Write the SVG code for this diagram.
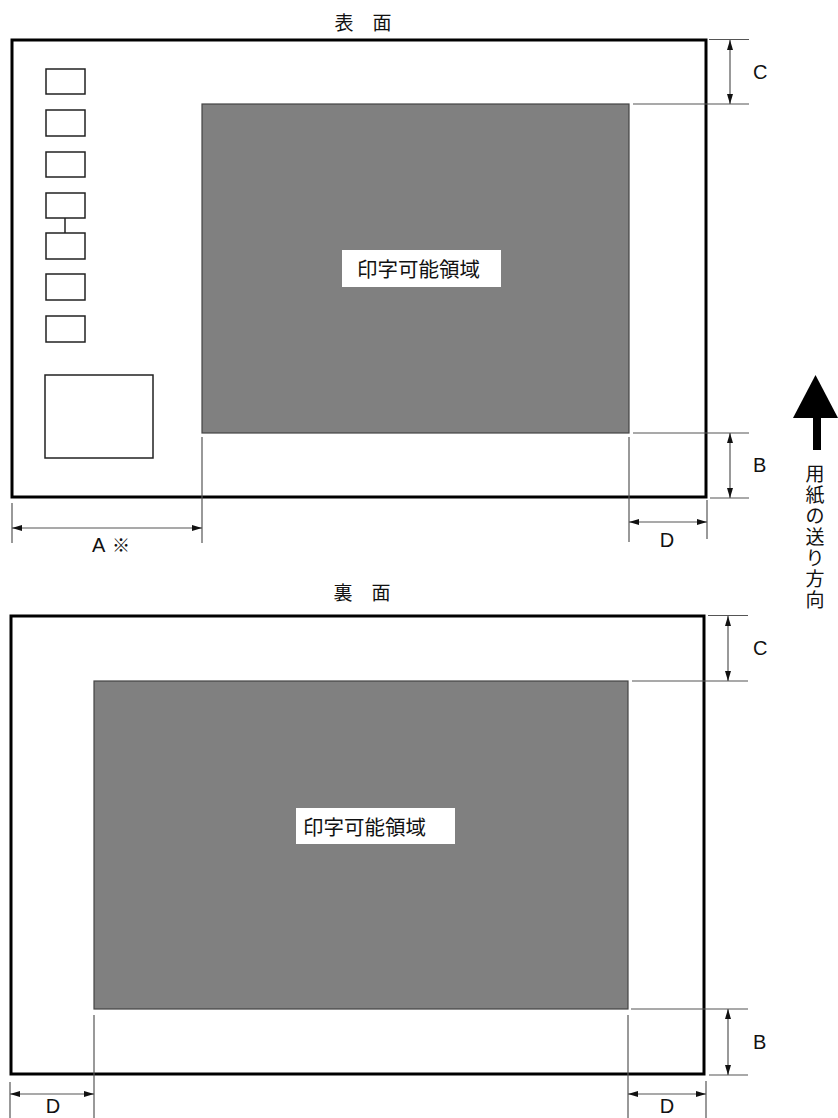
<svg xmlns="http://www.w3.org/2000/svg" width="838" height="1118" viewBox="0 0 838 1118">
<defs>
<style>
.paper{fill:#fff;stroke:#000;stroke-width:3}
.print{fill:#808080;stroke:#444;stroke-width:1.2}
.lbl{fill:#fff}
.sbox{fill:#fff;stroke:#222;stroke-width:1.5}
.ext{stroke:#555;stroke-width:1.2;fill:none}
.dim{stroke:#555;stroke-width:1.2;fill:none;marker-start:url(#ah);marker-end:url(#ah)}
.jp{font-family:"Noto Sans CJK JP","Noto Sans",sans-serif;fill:#111}
.lat{font-family:"Liberation Sans",Arial,sans-serif;fill:#111;font-size:20px}
</style>
<marker id="ah" viewBox="0 0 10 6" refX="10" refY="3" markerWidth="10" markerHeight="6" markerUnits="userSpaceOnUse" orient="auto-start-reverse">
<path d="M0,0 L10,3 L0,6 z" fill="#111"/>
</marker>
</defs>

<g id="front">
<text class="jp" x="363" y="30" font-size="19" text-anchor="middle">表　面</text>
<rect class="paper" x="12" y="40" width="694" height="457"/>
<rect class="print" x="202" y="104" width="427" height="329"/>
<rect class="lbl" x="342" y="250" width="159" height="37"/>
<text class="jp" x="357" y="277" font-size="20.5">印字可能領域</text>
<g id="front-boxes">
<rect class="sbox" x="46" y="69" width="39" height="25"/>
<rect class="sbox" x="46" y="110" width="39" height="26"/>
<rect class="sbox" x="46" y="152" width="39" height="25"/>
<rect class="sbox" x="46" y="193" width="39" height="25"/>
<rect class="sbox" x="46" y="233" width="39" height="26"/>
<rect class="sbox" x="46" y="274" width="39" height="26"/>
<rect class="sbox" x="46" y="316" width="39" height="26"/>
<line x1="65" y1="218" x2="65" y2="233" stroke="#222" stroke-width="1.5"/>
<rect class="sbox" x="45" y="375" width="108" height="83" stroke-width="1.2"/>
</g>
</g>

<g id="back">
<text class="jp" x="362" y="600" font-size="19" text-anchor="middle">裏　面</text>
<rect class="paper" x="11" y="616" width="693" height="458"/>
<rect class="print" x="94" y="681" width="534" height="328"/>
<rect class="lbl" x="296" y="808" width="159" height="36"/>
<text class="jp" x="303" y="835" font-size="20.5">印字可能領域</text>
</g>

<g id="connectors">
<line class="ext" x1="709" y1="39.5" x2="749" y2="39.5"/>
<line class="ext" x1="633" y1="104" x2="749" y2="104"/>
<line class="dim" x1="730" y1="40" x2="730" y2="104"/>
<line class="ext" x1="633" y1="433" x2="749" y2="433"/>
<line class="ext" x1="710" y1="498" x2="749" y2="498"/>
<line class="dim" x1="730" y1="433" x2="730" y2="498"/>
<line class="ext" x1="629" y1="437" x2="629" y2="542"/>
<line class="ext" x1="707" y1="500" x2="707" y2="539"/>
<line class="dim" x1="629" y1="522" x2="707" y2="522"/>
<line class="ext" x1="12" y1="503" x2="12" y2="543"/>
<line class="ext" x1="202" y1="437" x2="202" y2="543"/>
<line class="dim" x1="12" y1="528" x2="202" y2="528"/>
<line class="ext" x1="708" y1="615.5" x2="748" y2="615.5"/>
<line class="ext" x1="632" y1="681" x2="748" y2="681"/>
<line class="dim" x1="728" y1="616" x2="728" y2="681"/>
<line class="ext" x1="631" y1="1009" x2="748" y2="1009"/>
<line class="ext" x1="709" y1="1075" x2="748" y2="1075"/>
<line class="dim" x1="728" y1="1009" x2="728" y2="1075"/>
<line class="ext" x1="628" y1="1015" x2="628" y2="1118"/>
<line class="ext" x1="706" y1="1081" x2="706" y2="1118"/>
<line class="dim" x1="628" y1="1094" x2="706" y2="1094"/>
<line class="ext" x1="10" y1="1082" x2="10" y2="1118"/>
<line class="ext" x1="94" y1="1015" x2="94" y2="1118"/>
<line class="dim" x1="10" y1="1094" x2="94" y2="1094"/>
</g>

<g id="labels">
<text class="lat" x="753" y="79">C</text>
<text class="lat" x="753" y="472">B</text>
<text class="lat" x="667" y="547" text-anchor="middle">D</text>
<text class="lat" x="92" y="552">A</text>
<text class="jp" x="112" y="552" font-size="18">※</text>
<text class="lat" x="753" y="655">C</text>
<text class="lat" x="753" y="1049">B</text>
<text class="lat" x="667" y="1113" text-anchor="middle">D</text>
<text class="lat" x="53" y="1113" text-anchor="middle">D</text>
</g>

<g id="feed-direction">
<polygon points="815.5,375 838,418 793,418" fill="#000"/>
<rect x="813" y="417" width="8" height="33" fill="#000"/>
<text class="jp" font-size="19" text-anchor="middle" x="815 815 815 815 815 815 815" y="481 502 523 544 565 586 607">用紙の送り方向</text>
</g>
</svg>
